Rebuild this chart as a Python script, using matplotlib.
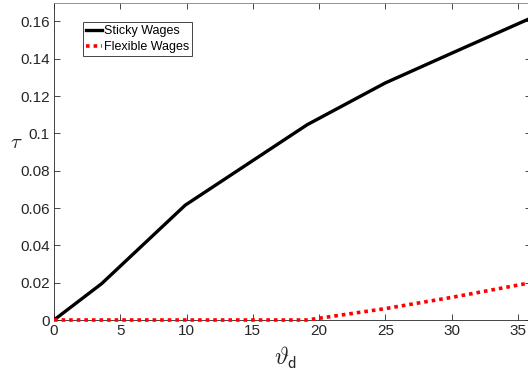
import matplotlib
matplotlib.use('Agg')
from matplotlib import pyplot as plt

# values
theta_d = [0, 3.6, 9.9, 19.1, 25, 30, 36]
tau_sticky = [0, 0.0195, 0.0615, 0.1046, 0.127, 0.1429, 0.1618]
tau_flexible = [0, 0, 0, 0, 0.0061, 0.0121, 0.0200]
x_ticks = [0, 5, 10, 15, 20, 25, 30, 35]
y_ticks = [0, 0.02, 0.04, 0.06, 0.08, 0.1, 0.12, 0.14, 0.16]
y_ticklabels = ['0', '0.02', '0.04', '0.06', '0.08', '0.1', '0.12', '0.14', '0.16']

plt.rcParams['font.family'] = ['Liberation Sans', 'DejaVu Sans']
plt.rcParams['mathtext.fontset'] = 'cm'

axis_color = '#262626'

fig = plt.figure(figsize=(5.28, 3.74), dpi=100)
ax = fig.add_axes([54 / 528, 1 - 320 / 374, 477 / 528, 317.3 / 374])

ax.plot(theta_d, tau_sticky, color='black', linewidth=2.4, label='Sticky Wages', zorder=3)
ax.plot(theta_d, tau_flexible, color='red', linewidth=2.6, linestyle=(0, (1, 1.1)),
        label='Flexible Wages', zorder=4, clip_on=False)

ax.set_xlim(0, 36)
ax.set_ylim(0, 0.17)
ax.set_xticks(x_ticks)
ax.set_yticks(y_ticks)
ax.set_yticklabels(y_ticklabels)
ax.tick_params(direction='in', top=True, right=True, length=4, width=0.6,
               labelsize=11, colors=axis_color, pad=3)
for s in ax.spines.values():
    s.set_color(axis_color)
    s.set_linewidth(0.6)
ax.spines['top'].set_color('#808080')

ax.set_ylabel(r'$\tau$', fontsize=15, rotation=0, va='center', ha='center', color=axis_color)
ax.yaxis.set_label_coords(-0.08, 0.558)
ax.set_xlabel(r'$\vartheta_{\mathsf{d}}$', fontsize=17, labelpad=0, color=axis_color)
ax.xaxis.set_label_coords(0.485, -0.08)

leg = ax.legend(loc='upper left', bbox_to_anchor=(0.061, 0.939), borderaxespad=0,
                fontsize=9, handlelength=1.3, handletextpad=0.1, borderpad=0.25,
                labelspacing=0.3, fancybox=False, framealpha=1, edgecolor='#262626')
leg.get_frame().set_linewidth(0.6)

plt.savefig('out.png', dpi=100)
